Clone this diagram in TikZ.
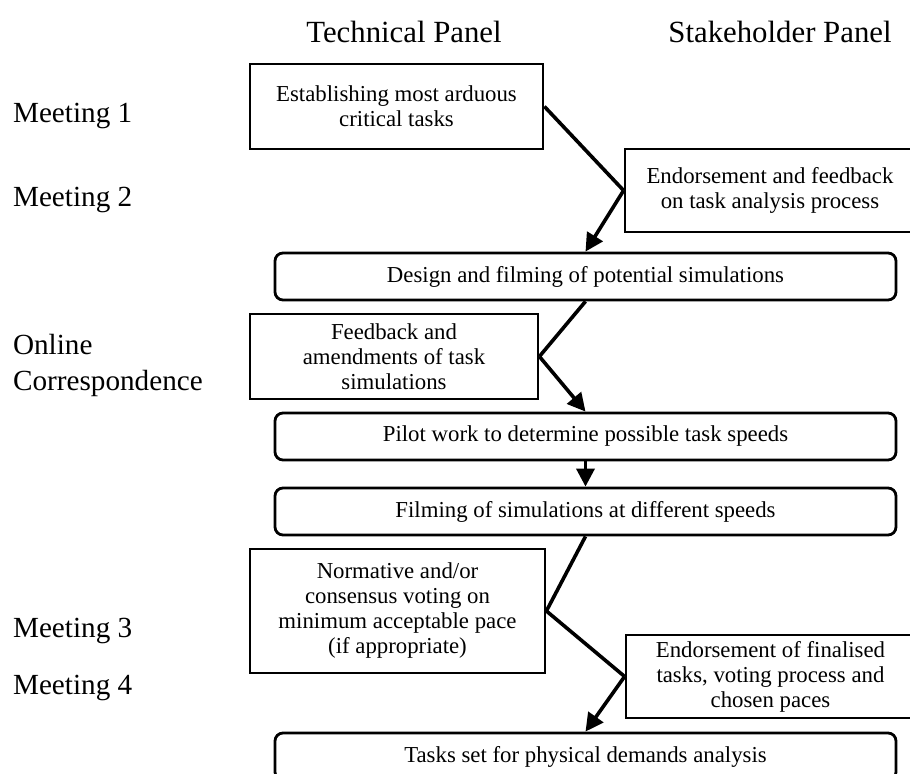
\documentclass[tikz,border=0pt]{standalone}
\usepackage{fontspec}
\setmainfont{Liberation Serif}
\usepackage{xcolor}
\usetikzlibrary{positioning, arrows.meta}
\definecolor{pnBlack}{RGB}{0, 0, 0}
\tikzset{
    base/.style={
        font=\fontsize{11.4}{12.5}\selectfont,
        align=center
    },
    taskbox/.style={
        base,
        rectangle,
        draw=pnBlack,
        line width=1.4pt,
        inner sep=2pt
    },
    stagebox/.style={
        taskbox,
        rounded corners=4pt,
        minimum width=310.5pt,
        minimum height=23.5pt
    },
    flow/.style={
        line width=1.8pt,
        color=pnBlack
    },
    flowhead/.style={
        flow,
        -{Triangle[length=9pt, width=9pt]}
    },
    heading/.style={
        font=\fontsize{15.4}{18}\selectfont
    },
    rowlabel/.style={
        font=\fontsize{14.6}{18}\selectfont,
        anchor=west,
        align=left
    }
}

\begin{document}
\begin{tikzpicture}[x=0.5pt, y=-0.5pt]
  \useasboundingbox (0,0) rectangle (910,774);

  % Panel headings
  \node[heading] (tech) at (404,32) {Technical Panel};
  \node[heading] (stake) at (780,32) {Stakeholder Panel};

  % Row labels
  \node[rowlabel] (meet1) at (6,116) {Meeting 1};
  \node[rowlabel] (meet2) at (6,200) {Meeting 2};
  \node[rowlabel] (online) at (6,365) {Online\\Correspondence};
  \node[rowlabel] (meet3) at (6,631) {Meeting 3};
  \node[rowlabel] (meet4) at (6,688) {Meeting 4};

  % Process boxes
  \node[taskbox, minimum width=146.5pt, minimum height=42.5pt] (establish) at (396.5,106.5)
    {Establishing most arduous\\critical tasks};
  \node[taskbox, minimum width=145pt, minimum height=41.5pt] (endorse) at (770,190.5)
    {Endorsement and feedback\\on task analysis process};
  \node[stagebox] (design) at (585.5,276.5)
    {Design and filming of potential simulations};
  \node[taskbox, minimum width=144pt, minimum height=42.5pt] (amend) at (394,356.5)
    {Feedback and\\amendments of task\\simulations};
  \node[stagebox] (pilot) at (585.5,436.5)
    {Pilot work to determine possible task speeds};
  \node[stagebox] (speeds) at (585.5,511.5)
    {Filming of simulations at different speeds};
  \node[taskbox, minimum width=147.5pt, minimum height=62pt] (voting) at (397.5,611)
    {Normative and/or\\consensus voting on\\minimum acceptable pace\\(if appropriate)};
  \node[taskbox, minimum width=144.5pt, minimum height=41.5pt] (final) at (770.5,676.5)
    {Endorsement of finalised\\tasks, voting process and\\chosen paces};
  \node[stagebox] (physical) at (585.5,756.5)
    {Tasks set for physical demands analysis};

  % Connectors
  \draw[flow] (establish.east) -- (endorse.west);
  \draw[flowhead] (endorse.west) -- (design.north);
  \draw[flow] (design.south) -- (amend.east);
  \draw[flowhead] (amend.east) -- (pilot.north);
  \draw[flowhead] (pilot.south) -- (speeds.north);
  \draw[flow] (speeds.south) -- (voting.east);
  \draw[flow] (voting.east) -- (final.west);
  \draw[flowhead] (final.west) -- (physical.north);
\end{tikzpicture}
\end{document}
